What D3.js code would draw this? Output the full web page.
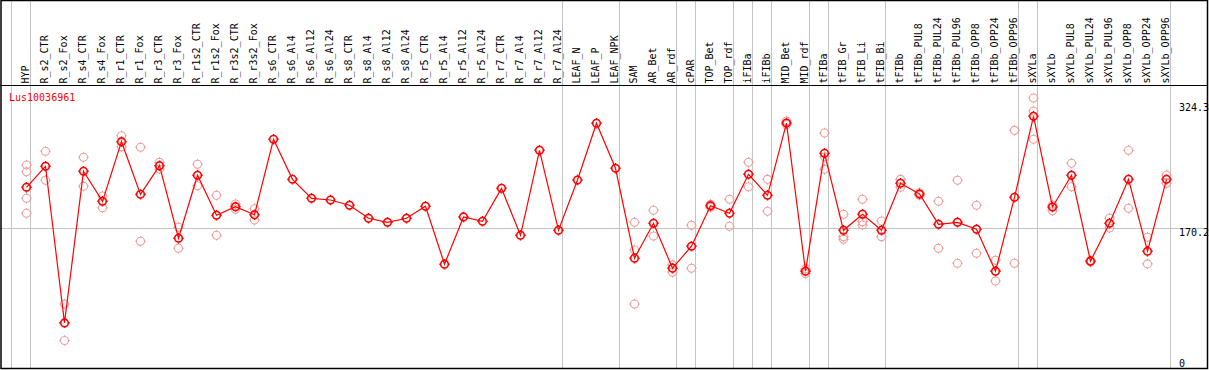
<!DOCTYPE html>
<html><head><meta charset="utf-8">
<script src="https://cdn.jsdelivr.net/npm/d3@7"></script>
<style>html,body{margin:0;padding:0;background:#fff;overflow:hidden}</style>
</head><body><svg id="c" width="1209" height="370"></svg>
<script>
const geneName = "Lus10036961";
const categories = ["HYP","R_s2_CTR","R_s2_Fox","R_s4_CTR","R_s4_Fox","R_r1_CTR","R_r1_Fox","R_r3_CTR","R_r3_Fox","R_r1s2_CTR","R_r1s2_Fox","R_r3s2_CTR","R_r3s2_Fox","R_s6_CTR","R_s6_Al4","R_s6_Al12","R_s6_Al24","R_s8_CTR","R_s8_Al4","R_s8_Al12","R_s8_Al24","R_r5_CTR","R_r5_Al4","R_r5_Al12","R_r5_Al24","R_r7_CTR","R_r7_Al4","R_r7_Al12","R_r7_Al24","LEAF_N","LEAF_P","LEAF_NPK","SAM","AR_Bet","AR_rdf","cPAR","TOP_Bet","TOP_rdf","iFIBa","iFIBb","MID_Bet","MID_rdf","tFIBa","tFIB_Gr","tFIB_Li","tFIB_Bi","tFIBb","tFIBb_PUL8","tFIBb_PUL24","tFIBb_PUL96","tFIBb_OPP8","tFIBb_OPP24","tFIBb_OPP96","sXYLa","sXYLb","sXYLb_PUL8","sXYLb_PUL24","sXYLb_PUL96","sXYLb_OPP8","sXYLb_OPP24","sXYLb_OPP96"];
const means = [220.4,246.3,46.4,240.1,203.1,276.6,211.7,247.0,156.8,235.2,185.9,196.5,186.6,279.6,230.2,206.8,204.7,198.2,182.2,177.2,182.2,197.0,123.0,183.8,178.5,219.1,160.7,266.0,167.2,229.4,299.3,243.8,130.8,176.0,117.8,146.4,197.7,188.3,236.4,210.5,299.6,113.9,262.3,167.2,187.1,167.2,225.3,212.1,174.8,177.2,168.5,113.9,208.0,307.9,196.1,235.2,126.9,176.0,230.2,139.9,230.2];
const replicates = [
 [247.9,239.6,206.8,188.3],[264.8,229.0],[71.1,23.4],[257.4,221.6],[209.6,195.2],[284.0,270.4],[269.7,152.9],[251.2,243.0],[171.1,143.8],[248.7,222.3],[210.5,160.7],[199.8,193.3],[194.0,180.1],
 [],[],[],[],[],[],[],[],[],[],[],[],[],[],[],[],[],[],[],
 [177.2,141.6,71.1],[192.0,159.8],[122.1,112.6],[173.5,117.8],[199.4,195.7],[205.6,172.3],[251.2,221.1],[230.2,190.8],[302.1,297.6],[116.9,110.8],[287.3,258.1,242.6],[187.1,158.9,155.5],[205.6,178.0,173.9],[178.8,158.9],
 [230.2,220.4],[213.7,210.5],[203.1,143.8],[229.0,124.3],[198.2,137.3],[128.2,101.0],[290.6,124.3],
 [330.5,314.4,279.6],[198.6,191.5],[250.0,221.1],[128.2,126.0],[182.2,170.2],[266.0,194.5],[158.1,123.4],[235.5,225.3]
];
const separatorsAfter = ["HYP","R_r7_Al24","LEAF_NPK","AR_rdf","cPAR","TOP_rdf","iFIBa","iFIBb","MID_rdf","tFIBa","tFIB_Bi","tFIBb_OPP96","sXYLa","sXYLb_OPP96"];
const axisTicks = [0, 170.2, 324.3];
const refLine = 170.2;

const W = 1209, H = 370;
const svg = d3.select("#c");
const x = d3.scalePoint().domain(categories).range([26.5, 1166.5]);
const step = x.step();
const y = d3.scaleLinear().domain([0, 170.2, 324.3]).range([358.5, 228, 103]);
const FONT = "'DejaVu Sans Mono', monospace";

// separators (gray)
const sepX = [x(categories[0]) - step + 4].concat(separatorsAfter.map(c => x(c) + 4));
svg.append("g").selectAll("line").data(sepX).join("line")
  .attr("x1", d => Math.floor(d) + 0.5).attr("x2", d => Math.floor(d) + 0.5)
  .attr("y1", 0).attr("y2", 368).attr("stroke", "#c4c4c4").attr("stroke-width", 1);

// reference horizontal line
svg.append("line").attr("x1", 0).attr("x2", 1207)
  .attr("y1", Math.floor(y(refLine)) + 0.5).attr("y2", Math.floor(y(refLine)) + 0.5)
  .attr("stroke", "#c4c4c4").attr("stroke-width", 1);

// header separator
svg.append("line").attr("x1", 0).attr("x2", 1207).attr("y1", 85.5).attr("y2", 85.5)
  .attr("stroke", "#000").attr("stroke-width", 1);

// frame
svg.append("rect").attr("x", 1).attr("y", 0.5).attr("width", 1206.5).attr("height", 368)
  .attr("fill", "none").attr("stroke", "#000").attr("stroke-width", 1.5);

// column labels
svg.append("g").selectAll("text").data(categories).join("text")
  .attr("transform", d => `translate(${x(d) + 2},83.5) rotate(-90)`)
  .attr("font-family", FONT).attr("font-size", 10).attr("fill", "#000")
  .text(d => d);

// gene name
svg.append("text").attr("x", 9).attr("y", 101).attr("font-family", FONT)
  .attr("font-size", 10).attr("fill", "#ff0000").text(geneName);

// right axis labels
svg.append("g").selectAll("text").data(axisTicks).join("text")
  .attr("x", 1179).attr("y", d => y(d) + 8).attr("font-family", FONT)
  .attr("font-size", 10).attr("fill", "#000").text(d => d === 0 ? "0" : d.toFixed(1));

// marker path
function marker(r, t) {
  const p = d3.path();
  p.moveTo(r, 0); p.arc(0, 0, r, 0, 2 * Math.PI);
  p.moveTo(0, -r); p.lineTo(0, -r - t);
  p.moveTo(0, r); p.lineTo(0, r + t);
  p.moveTo(-r, 0); p.lineTo(-r - t, 0);
  p.moveTo(r, 0); p.lineTo(r + t, 0);
  return p.toString();
}

// replicate points
const reps = [];
categories.forEach((c, i) => replicates[i].forEach(v => reps.push({c, v})));
svg.append("g").selectAll("path").data(reps).join("path")
  .attr("d", marker(4, 1.3))
  .attr("transform", d => `translate(${x(d.c)},${y(d.v)})`)
  .attr("fill", "none").attr("stroke", "#f09c9c").attr("stroke-width", 1.1);

// mean line
const pts = categories.map((c, i) => ({c, v: means[i]}));
svg.append("path").datum(pts)
  .attr("d", d3.line().x(d => x(d.c)).y(d => y(d.v)))
  .attr("fill", "none").attr("stroke", "#ff0000").attr("stroke-width", 1.2);

// mean markers
svg.append("g").selectAll("path").data(pts).join("path")
  .attr("d", marker(3.8, 1.4))
  .attr("transform", d => `translate(${x(d.c)},${y(d.v)})`)
  .attr("fill", "none").attr("stroke", "#ff0000").attr("stroke-width", 1.6);
</script>
</body></html>
